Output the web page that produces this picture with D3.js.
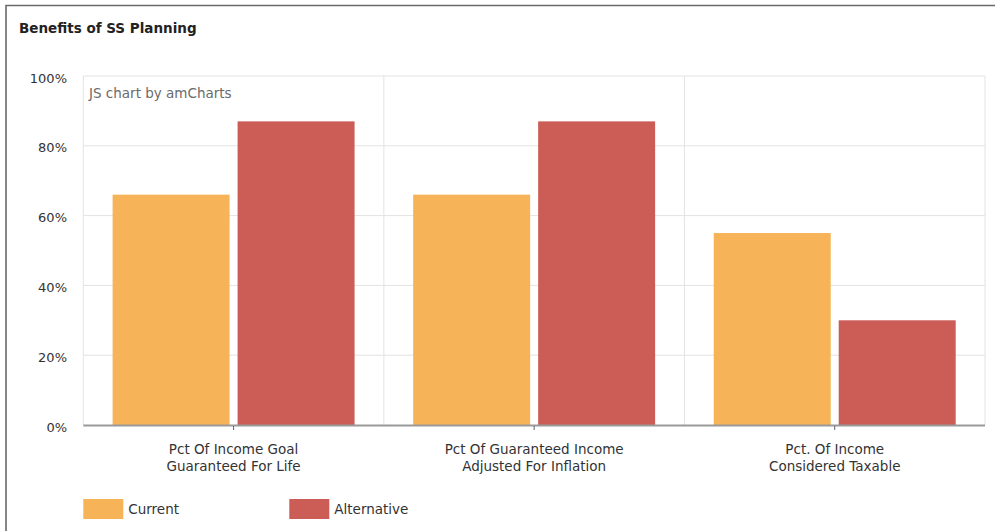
<!DOCTYPE html>
<html>
<head>
<meta charset="utf-8">
<script src="https://cdn.jsdelivr.net/npm/d3@7"></script>
<style>
html,body{margin:0;padding:0;background:#fff;}
svg{display:block;}
</style>
</head>
<body>
<svg id="chart" width="995" height="531"></svg>
<script>
const categories = [
  ["Pct Of Income Goal", "Guaranteed For Life"],
  ["Pct Of Guaranteed Income", "Adjusted For Inflation"],
  ["Pct. Of Income", "Considered Taxable"]
];
const seriesNames = ["Current", "Alternative"];
const currentValues = [66, 66, 55];
const alternativeValues = [87, 87, 30];
const yTicks = [0, 20, 40, 60, 80, 100];
const colors = ["#F6B357", "#CC5C56"];

const svg = d3.select("#chart");
const W = 995, H = 531;
const m = {left: 83.3, right: 985, top: 76, bottom: 425};

// frame
svg.append("path").attr("d", `M6,531 V5.5 H995`).attr("fill","none").attr("stroke","#6a6a6a").attr("stroke-width",1.6);

// title
svg.append("text").attr("x",19).attr("y",33).text("Benefits of SS Planning")
  .attr("font-family","DejaVu Sans").attr("font-weight","bold").attr("font-size","13.5px").attr("fill","#222");

const catIdx = d3.range(categories.length);
const x0 = d3.scaleBand().domain(catIdx).range([m.left, m.right]).padding(0);
const x1 = d3.scaleBand().domain(seriesNames).range([0, x0.bandwidth()]).paddingInner(0.064).paddingOuter(0.2345);
const y = d3.scaleLinear().domain([0, 100]).range([m.bottom, m.top]);

// horizontal grid
svg.append("g").attr("class","hgrid").selectAll("line").data(yTicks.filter(d=>d>0)).join("line")
  .attr("x1", m.left).attr("x2", m.right).attr("y1", d=>y(d)).attr("y2", d=>y(d))
  .attr("stroke","#e3e3e3").attr("stroke-width",1);
// vertical grid
const vx = catIdx.map(i=>x0(i)).concat([m.right]);
svg.append("g").selectAll("line").data(vx).join("line")
  .attr("x1", d=>d).attr("x2", d=>d).attr("y1", m.top).attr("y2", m.bottom)
  .attr("stroke","#e3e3e3").attr("stroke-width",1);

// watermark
svg.append("text").attr("x",89).attr("y",98).text("JS chart by amCharts")
  .attr("font-family","DejaVu Sans").attr("font-size","13.5px").attr("fill","#6b6b6b");

// bars
const data = catIdx.map(i => ({i, vals: [currentValues[i], alternativeValues[i]]}));
const groups = svg.append("g").selectAll("g").data(data).join("g")
  .attr("transform", d => `translate(${x0(d.i)},0)`);
groups.selectAll("rect").data(d => seriesNames.map((s,k)=>({s, v:d.vals[k], k}))).join("rect")
  .attr("x", d => x1(d.s)).attr("width", x1.bandwidth())
  .attr("y", d => y(d.v)).attr("height", d => y(0) - y(d.v))
  .attr("fill", d => colors[d.k]);

// y axis labels
const yAxis = d3.axisLeft(y).tickValues(yTicks).tickFormat(d => d + "%").tickSize(0).tickPadding(0);
const yg = svg.append("g").attr("transform", `translate(67,2)`).call(yAxis);
yg.select(".domain").remove();
yg.selectAll("text").attr("font-family","DejaVu Sans").attr("font-size","13px").attr("fill","#333");

// x axis baseline
svg.append("line").attr("x1", m.left).attr("x2", m.right).attr("y1", m.bottom+0.5).attr("y2", m.bottom+0.5)
  .attr("stroke","#9a9a9a").attr("stroke-width",2);
// x ticks
const xCenter = d3.scalePoint().domain(catIdx).range([x0(0)+x0.bandwidth()/2, x0(2)+x0.bandwidth()/2]);
svg.append("g").selectAll("line").data(catIdx).join("line")
  .attr("x1", d=>xCenter(d)).attr("x2", d=>xCenter(d)).attr("y1", m.bottom+1).attr("y2", m.bottom+5)
  .attr("stroke","#5a6270").attr("stroke-width",1);

// category labels
const lab = svg.append("g").selectAll("text").data(catIdx).join("text")
  .attr("x", d=>xCenter(d)).attr("y", 454)
  .attr("text-anchor","middle").attr("font-family","DejaVu Sans").attr("font-size","13.5px").attr("fill","#333");
lab.selectAll("tspan").data(d=>categories[d]).join("tspan")
  .attr("x", function(){return this.parentNode.getAttribute("x");})
  .attr("dy", (d,k)=> k===0 ? 0 : 16.7).text(d=>d);

// legend
const legX = [83.3, 289.3];
const leg = svg.append("g").selectAll("g").data(seriesNames).join("g")
  .attr("transform", (d,k)=>`translate(${legX[k]},499)`);
leg.append("rect").attr("width",40).attr("height",20).attr("fill",(d,k)=>colors[k]);
leg.append("text").attr("x",45).attr("y",14.5).text(d=>d)
  .attr("font-family","DejaVu Sans").attr("font-size","13.5px").attr("fill","#333");
</script>
</body>
</html>
